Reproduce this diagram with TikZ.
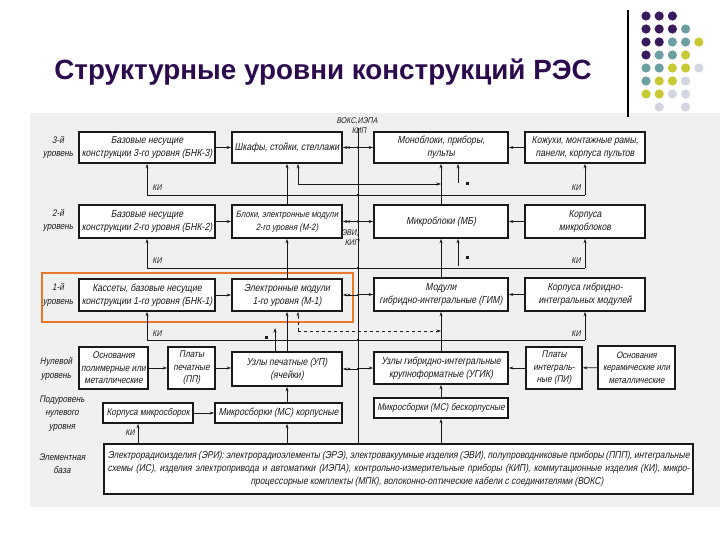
\documentclass[tikz,border=0pt]{standalone}
\usepackage{fontspec}
\setmainfont{Liberation Sans}
\newfontfamily\draft{Liberation Sans}[FakeStretch=0.85,FakeSlant=0.2]
\usetikzlibrary{arrows.meta}
\definecolor{ttl}{HTML}{2B0B4E}
\definecolor{dpur}{HTML}{3A1A5C}
\definecolor{dteal}{HTML}{6C9FA2}
\definecolor{dyel}{HTML}{C9C936}
\definecolor{dgray}{HTML}{D3D6E0}
\definecolor{scanbg}{HTML}{F0F0F0}
\definecolor{hl}{HTML}{E8782A}
\definecolor{ink}{HTML}{1A1A1A}
\tikzset{
  box/.style={draw=ink, line width=1.6pt, fill=white, inner sep=1pt, align=center,
    font=\draft\fontsize{10.2}{13}\selectfont, text=ink},
  boxs/.style={box, font=\draft\fontsize{9.7}{13}\selectfont},
  box3/.style={box, font=\draft\fontsize{9.7}{12.5}\selectfont},
  arr/.style={-{Stealth[length=4.5pt,width=3pt]}, line width=0.7pt, draw=ink},
  ln/.style={line width=0.7pt, draw=ink},
  lbl/.style={font=\draft\fontsize{9.5}{13.5}\selectfont, align=center, text=ink, inner sep=0pt},
  small/.style={font=\draft\fontsize{8.3}{9}\selectfont, text=ink, inner sep=0pt},
  ebf/.style={font=\draft\fontsize{10}{12.8}\selectfont, text=ink, inner sep=0pt},
  jd/.style={circle, fill=ink, inner sep=0pt, minimum size=2.6pt},
  sq/.style={rectangle, fill=ink, inner sep=0pt, minimum size=3pt}
}
\begin{document}
\begin{tikzpicture}[x=1pt,y=-1pt]
\useasboundingbox (0,0) rectangle (720,540);
\fill[white] (0,0) rectangle (720,540);
\fill[scanbg] (30,113) rectangle (720,507);
% title and decoration
\node[font=\bfseries\fontsize{27.8}{32}\selectfont, text=ttl] (title) at (323,72) {Структурные уровни конструкций РЭС};
\draw[line width=1.2pt] (628,10) -- (628,117);
\foreach \c [count=\j from 0] in {dpur,dpur,dpur} {\fill[\c] ({646+13.2*\j},16) circle (4.6);}
\foreach \c [count=\j from 0] in {dpur,dpur,dpur,dteal} {\fill[\c] ({646+13.2*\j},29) circle (4.6);}
\foreach \c [count=\j from 0] in {dpur,dpur,dteal,dteal,dyel} {\fill[\c] ({646+13.2*\j},42) circle (4.6);}
\foreach \c [count=\j from 0] in {dpur,dteal,dteal,dyel} {\fill[\c] ({646+13.2*\j},55) circle (4.6);}
\foreach \c [count=\j from 0] in {dteal,dteal,dyel,dyel,dgray} {\fill[\c] ({646+13.2*\j},68) circle (4.6);}
\foreach \c [count=\j from 0] in {dteal,dyel,dyel,dgray} {\fill[\c] ({646+13.2*\j},81) circle (4.6);}
\foreach \c [count=\j from 0] in {dyel,dyel,dgray,dgray} {\fill[\c] ({646+13.2*\j},94) circle (4.6);}
\fill[dgray] (659.2,107) circle (4.6);
\fill[dgray] (685.6,107) circle (4.6);

% highlight
\draw[hl, line width=1.8pt] (42,273) rectangle (353,322);

% level labels
\node[lbl] (l3) at (58,147.5) {3-й\\уровень};
\node[lbl] (l2) at (58,220.5) {2-й\\уровень};
\node[lbl] (l1) at (58,295) {1-й\\уровень};
\node[lbl] (l0) at (56,369) {Нулевой\\уровень};
\node[lbl] (lp) at (62,413.5) {Подуровень\\нулевого\\уровня};
\node[lbl] (le) at (62,463.5) {Элементная\\база};

% boxes
\node[box, minimum width=136pt, minimum height=31pt] (bnk3) at (147,147.5) {Базовые несущие\\конструкции 3-го уровня (БНК-3)};
\node[box, minimum width=110pt, minimum height=31pt] (shk) at (287,147.5) {Шкафы, стойки, стеллажи};
\node[box, minimum width=134pt, minimum height=31pt] (mono) at (441,147.5) {Моноблоки, приборы,\\пульты};
\node[box, minimum width=120pt, minimum height=31pt] (koz) at (585,147.5) {Кожухи, монтажные рамы,\\панели, корпуса пультов};

\node[box, minimum width=136pt, minimum height=33pt] (bnk2) at (147,221.5) {Базовые несущие\\конструкции 2-го уровня (БНК-2)};
\node[box, minimum width=110pt, minimum height=33pt, font=\draft\fontsize{9.2}{13}\selectfont] (blk) at (287,221.5) {Блоки, электронные модули\\2-го уровня (М-2)};
\node[box, minimum width=134pt, minimum height=33pt] (mb) at (441,221.5) {Микроблоки (МБ)};
\node[box, minimum width=120pt, minimum height=33pt] (kmb) at (585,221.5) {Корпуса\\микроблоков};

\node[box, minimum width=136pt, minimum height=32pt] (bnk1) at (147,295) {Кассеты, базовые несущие\\конструкции 1-го уровня (БНК-1)};
\node[box, minimum width=110pt, minimum height=32pt] (m1) at (287,295) {Электронные модули\\1-го уровня (М-1)};
\node[box, minimum width=134pt, minimum height=33pt] (gim) at (441,294.5) {Модули\\гибридно-интегральные (ГИМ)};
\node[box, minimum width=120pt, minimum height=33pt] (kgim) at (585,294.5) {Корпуса гибридно-\\интегральных модулей};

\node[box3, minimum width=69pt, minimum height=42pt] (osn) at (113.5,368) {Основания\\полимерные или\\металлические};
\node[box3, minimum width=47pt, minimum height=42pt] (pp) at (191.5,368) {Платы\\печатные\\(ПП)};
\node[box, minimum width=110pt, minimum height=34pt] (up) at (287,369) {Узлы печатные (УП)\\(ячейки)};
\node[box, minimum width=134pt, minimum height=32pt] (ugik) at (441,368) {Узлы гибридно-интегральные\\крупноформатные (УГИК)};
\node[box3, minimum width=56pt, minimum height=42pt] (pi) at (554,368) {Платы\\интеграль-\\ные (ПИ)};
\node[box3, minimum width=77pt, minimum height=43pt, font=\draft\fontsize{9.3}{12.5}\selectfont] (osk) at (636.5,367.5) {Основания\\керамические или\\металлические};

\node[boxs, minimum width=90pt, minimum height=20pt] (kms) at (148,413) {Корпуса микросборок};
\node[box, minimum width=127pt, minimum height=20pt] (msk) at (278.5,413) {Микросборки (МС) корпусные};
\node[boxs, minimum width=134pt, minimum height=20pt] (msb) at (441,408) {Микросборки (МС) бескорпусные};

\node[box, minimum width=589pt, minimum height=50pt] (eb) at (398.5,469) {};
\node[ebf] (eb1) at (398.5,456) {\makebox[582pt][s]{Электрорадиоизделия (ЭРИ): электрорадиоэлементы (ЭРЭ), электровакуумные изделия (ЭВИ), полупроводниковые приборы (ППП), интегральные}};
\node[ebf] (eb2) at (398.5,469) {\makebox[582pt][s]{схемы (ИС), изделия электропривода и автоматики (ИЭПА), контрольно-измерительные приборы (КИП), коммутационные изделия (КИ), микро-}};
\node[ebf] (eb3) at (427,482) {процессорные комплекты (МПК), волоконно-оптические кабели с соединителями (ВОКС)};

% horizontal arrows within rows
\draw[arr] (bnk3) -- (shk);
\draw[arr] (koz) -- (mono);
\draw[arr] (bnk2) -- (blk);
\draw[arr] (kmb) -- (mb);
\draw[arr] (bnk1) -- (m1);
\draw[arr] (kgim) -- (gim);
\draw[arr] (osn) -- (pp);
\draw[arr] (pp.east) -- (up.west |- pp.east);
\draw[arr] (osk) -- (pi);
\draw[arr] (pi) -- (ugik);
\draw[arr] (kms) -- (msk);

% vertical chain x=287
\draw[arr] (up.south |- msk.north) -- (up.south);
\draw[arr] (up.south |- eb.north) -- (up.south |- msk.south);
\draw[arr] (up) -- (m1);
\draw[arr] (m1) -- (blk);
\draw[arr] (blk) -- (shk);
% vertical chain x=441
\draw[arr] (msb.south |- eb.north) -- (msb.south);
\draw[arr] (msb) -- (ugik);
\draw[arr] (ugik) -- (gim);
\draw[arr] (gim) -- (mb);
\draw[arr] (mb) -- (mono);
% KI into Корпуса микросборок
\coordinate (kiB) at (138,444);
\draw[arr] (kiB) -- (kiB |- kms.south);
\node[small] (kiBl) at (130,433) {КИ};

% KI buses
\coordinate (k3L) at (147,195); \coordinate (k3R) at (585,195);
\coordinate (k2L) at (147,268); \coordinate (k2R) at (585,268);
\coordinate (k1L) at (147,340); \coordinate (k1R) at (585,340);
\draw[ln] (k3L) -- (k3R); \draw[arr] (k3L) -- (bnk3.south); \draw[arr] (k3R) -- (koz.south);
\draw[ln] (k2L) -- (k2R); \draw[arr] (k2L) -- (bnk2.south); \draw[arr] (k2R) -- (kmb.south);
\draw[ln] (k1L) -- (k1R); \draw[arr] (k1L) -- (bnk1.south); \draw[arr] (k1R) -- (kgim.south);
\node[small] (k3a) at (157,188) {КИ}; \node[small] (k3b) at (576,188) {КИ};
\node[small] (k2a) at (157,261) {КИ}; \node[small] (k2b) at (576,261) {КИ};
\node[small] (k1a) at (157,334) {КИ}; \node[small] (k1b) at (576,334) {КИ};

% Шкафы -> Моноблоки link
\coordinate (s1) at (298,184); \coordinate (s2) at (441,184);
\draw[arr] (s1) -- (s1 |- shk.south);
\draw[arr] (s1) -- (s2);
% dashed link M-1 -> ГИМ line
\coordinate (d1) at (298,331); \coordinate (d2) at (441,331);
\draw[arr, dashed] (d1) -- (d1 |- m1.south);
\draw[arr, dashed] (d1) -- (d2);

% short inputs marked with dots
\coordinate (q1) at (458,183);
\draw[arr] (q1) -- (q1 |- mono.south);
\node[sq] (q1d) at (467,184) {};
\coordinate (q2) at (458,266);
\draw[arr] (q2) -- (q2 |- mb.south);
\node[sq] (q2d) at (467,257) {};
\coordinate (q3) at (275,328);
\draw[arr] (q3 |- up.north) -- (q3);
\node[sq] (q3d) at (266,337) {};

% vertical bus
\coordinate (busT) at (358,128);
\draw[ln, line width=0.6pt] (busT) -- (busT |- eb.north);
\foreach \b/\L/\R in {r3/shk/mono, r2/blk/mb, r1/m1/gim, r0/up/ugik} {
  \draw[arr] (busT |- \L.east) -- (\L.east);
  \draw[arr] (busT |- \R.west) -- (\R.west);
  \node[jd] (\b a) at (busT |- \L.east) {};
  \node[jd] (\b b) at ([xshift=-9pt]busT |- \L.east) {};
}
\node[jd] (jk3) at (busT |- k3L) {};
\node[jd] (jk2) at (busT |- k2L) {};
\node[jd] (jk1) at (busT |- k1L) {};
\node[small] (bl1) at (357,121) {ВОКС,ИЭПА};
\node[small] (bl2) at (359,131) {КИП};
\node[small] (bl3) at (350,233) {ЭВИ,};
\node[small] (bl4) at (352,243) {КИП};
\end{tikzpicture}
\end{document}
